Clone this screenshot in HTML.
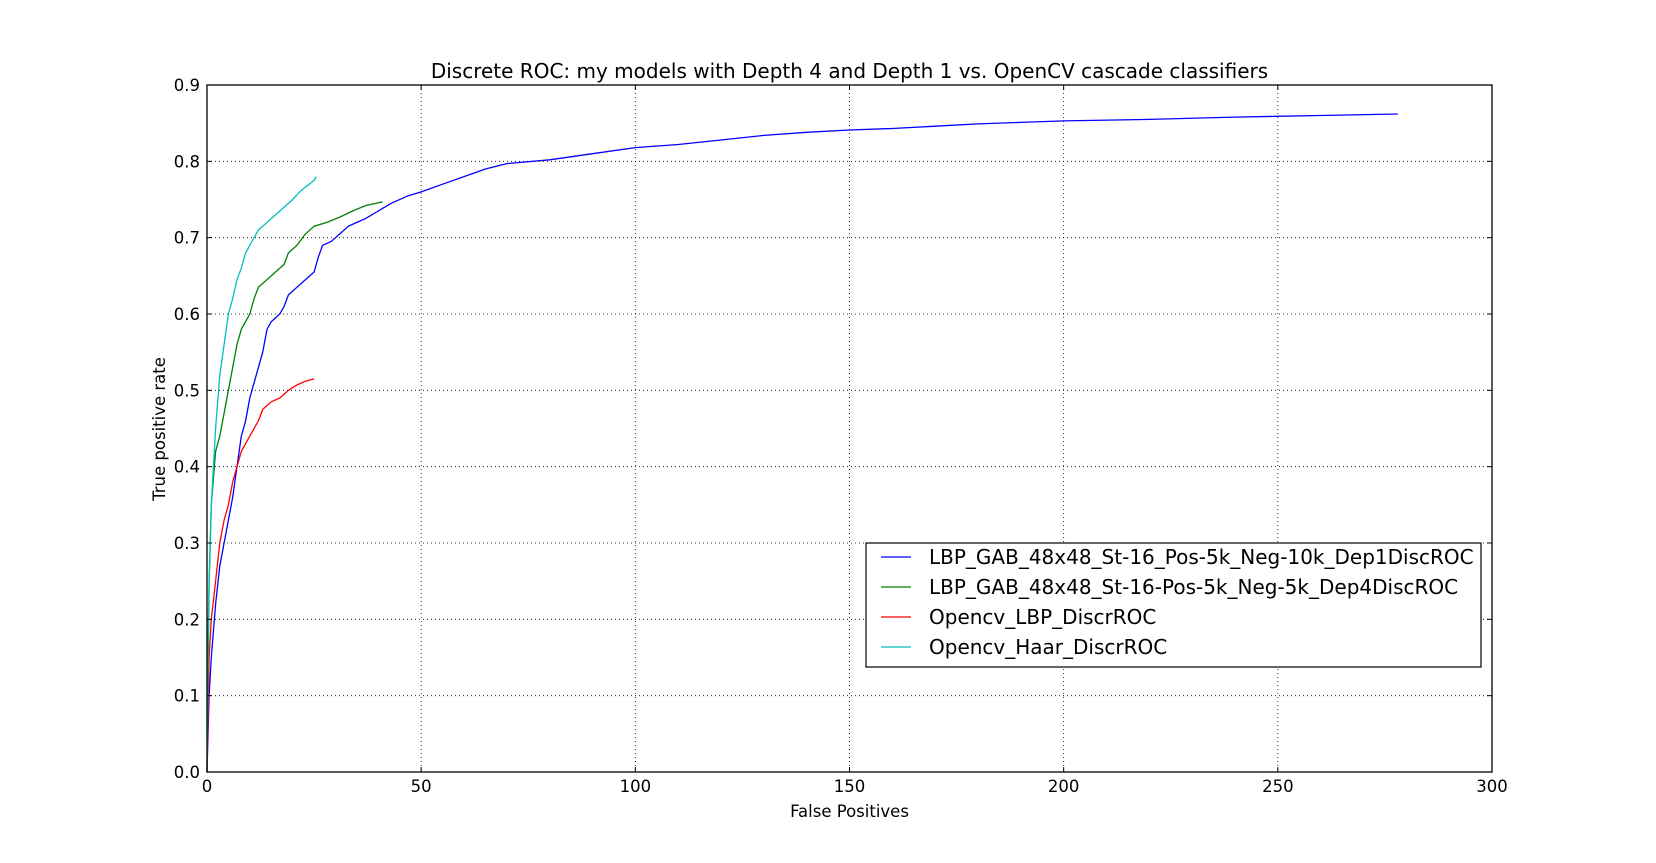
<!DOCTYPE html>
<html><head><meta charset="utf-8"><style>
body{margin:0;background:#fff;}
svg text{font-family:"DejaVu Sans","Liberation Sans",sans-serif;fill:#000;}
</style></head><body>
<svg id="chart" width="1656" height="858" xmlns="http://www.w3.org/2000/svg">
<rect width="1656" height="858" fill="#fff"/>
<g id="grid"></g>
<g id="series"></g>
<rect x="207" y="85" width="1285" height="687" fill="none" stroke="#000" stroke-width="1.3"/>
<g id="ticks"></g>
<text x="849.5" y="78" font-size="20" text-anchor="middle">Discrete ROC: my models with Depth 4 and Depth 1 vs. OpenCV cascade classifiers</text>
<text x="849.5" y="817" font-size="16.5" text-anchor="middle">False Positives</text>
<text x="165" y="429" font-size="16.5" text-anchor="middle" transform="rotate(-90 165 429)">True positive rate</text>
<g id="legend">
<rect x="866" y="543" width="615" height="124" fill="#fff" stroke="#000" stroke-width="1.2"/>
</g>
</svg>
<script>
const xTicks=[0,50,100,150,200,250,300];
const yTicks=[0.0,0.1,0.2,0.3,0.4,0.5,0.6,0.7,0.8,0.9];
const seriesNames=["LBP_GAB_48x48_St-16_Pos-5k_Neg-10k_Dep1DiscROC","LBP_GAB_48x48_St-16-Pos-5k_Neg-5k_Dep4DiscROC","Opencv_LBP_DiscrROC","Opencv_Haar_DiscrROC"];
const seriesColors=["#0000ff","#008000","#ff0000","#00bfbf"];
const blueX=[0,0.5,1,2,3,4,5,6,7,8,9,10,11,12,13,14,15,17,18,19,21,23,25,26,27,29,31,33,35,37,40,43,47,50,55,60,65,70,80,90,100,110,120,130,140,150,160,170,180,190,200,220,240,260,278];
const blueY=[0,0.1,0.15,0.22,0.27,0.3,0.33,0.36,0.4,0.44,0.46,0.49,0.51,0.53,0.55,0.58,0.59,0.6,0.61,0.625,0.635,0.645,0.655,0.675,0.69,0.695,0.705,0.715,0.72,0.725,0.735,0.745,0.755,0.76,0.77,0.78,0.79,0.797,0.802,0.81,0.818,0.822,0.828,0.834,0.838,0.841,0.843,0.846,0.849,0.851,0.853,0.855,0.858,0.86,0.862];
const greenX=[0,0.5,1,2,3,4,5,6,7,8,9,10,11,12,14,16,18,19,21,23,25,28,31,34,37,41];
const greenY=[0,0.25,0.35,0.42,0.44,0.47,0.5,0.53,0.56,0.58,0.59,0.6,0.62,0.635,0.645,0.655,0.665,0.68,0.69,0.705,0.715,0.72,0.727,0.735,0.742,0.747];
const redX=[0,0.5,1,2,3,4,5,6,7,8,10,12,13,15,17,19,21,23,25];
const redY=[0,0.15,0.2,0.25,0.3,0.33,0.35,0.38,0.4,0.42,0.44,0.46,0.475,0.485,0.49,0.5,0.507,0.512,0.515];
const cyanX=[0,0.3,1,2,3,4,5,6,7,8,9,10,12,14,17,20,22,25,25.5];
const cyanY=[0,0.2,0.35,0.45,0.52,0.56,0.6,0.62,0.645,0.66,0.68,0.69,0.71,0.72,0.735,0.75,0.762,0.775,0.78];

const L=207,R=1492,T=85,B=772;
const xs=v=>L+(v-0)/(300-0)*(R-L);
const ys=v=>B-(v-0)/(0.9-0)*(B-T);
const NS="http://www.w3.org/2000/svg";
const mk=(t,a,p)=>{const e=document.createElementNS(NS,t);for(const k in a)e.setAttribute(k,a[k]);p.appendChild(e);return e;};
const grid=document.getElementById('grid'),ticks=document.getElementById('ticks'),ser=document.getElementById('series'),leg=document.getElementById('legend');
xTicks.forEach(v=>{
  const x=xs(v);
  if(v>0&&v<300){const g=mk('line',{x1:x,x2:x,y1:T,y2:B,stroke:'#000','stroke-width':0.8,'stroke-dasharray':'1,3'},grid);
  
  }
  mk('line',{x1:x,x2:x,y1:B,y2:B-5,stroke:'#000'},ticks);
  mk('line',{x1:x,x2:x,y1:T,y2:T+5,stroke:'#000'},ticks);
  const t=mk('text',{x:x,y:B+20,'font-size':16.5,'text-anchor':'middle'},ticks);
  t.textContent=v;
  
  
});
yTicks.forEach(v=>{
  const y=ys(v);
  if(v>0&&v<0.9){const g=mk('line',{x1:L,x2:R,y1:y,y2:y,stroke:'#000','stroke-width':0.8,'stroke-dasharray':'1,3'},grid);
  
  }
  mk('line',{x1:L,x2:L+5,y1:y,y2:y,stroke:'#000'},ticks);
  mk('line',{x1:R,x2:R-5,y1:y,y2:y,stroke:'#000'},ticks);
  const t=mk('text',{x:L-7,y:y+6,'font-size':16.5,'text-anchor':'end'},ticks);
  t.textContent=v.toFixed(1);
  
  
});
const all=[[blueX,blueY],[greenX,greenY],[redX,redY],[cyanX,cyanY]];
const names=['blue-line','green-line','red-line','cyan-line'];
all.forEach((s,i)=>{
  const pts=s[0].map((x,j)=>xs(x).toFixed(1)+','+ys(s[1][j]).toFixed(1)).join(' ');
  const p=mk('polyline',{points:pts,fill:'none',stroke:seriesColors[i],'stroke-width':1.3},ser);
  
  
  const ly=557+i*30;
  const ll=mk('line',{x1:881,x2:911,y1:ly,y2:ly,stroke:seriesColors[i],'stroke-width':1.3},leg);
  
  
  const t=mk('text',{x:929,y:ly+7,'font-size':20},leg);
  t.textContent=seriesNames[i];
  
  
});
</script>
</body></html>
